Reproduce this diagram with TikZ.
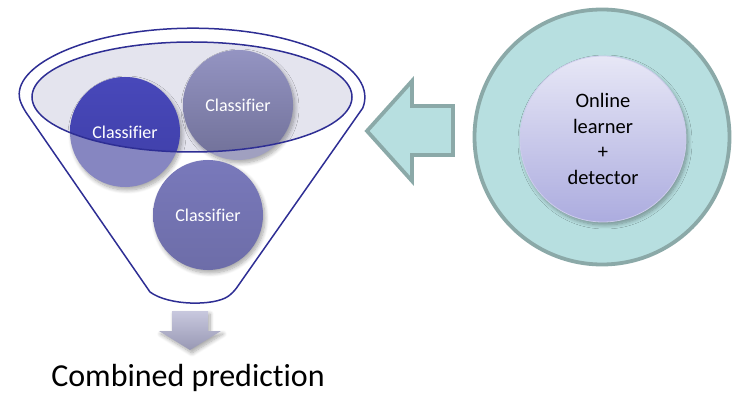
\documentclass[tikz,border=0pt]{standalone}
\usepackage{fontspec}
\setmainfont{Carlito}[Ligatures=NoCommon]
\usetikzlibrary{shadows.blur}

\definecolor{funnelblue}{HTML}{2E2E94}
\definecolor{ellipsefill}{HTML}{E4E4EE}
\definecolor{tealfill}{HTML}{B7DFE0}
\definecolor{tealedge}{HTML}{8BA9A8}

\begin{document}
\begin{tikzpicture}[x=1pt,y=1pt,
  softshadow/.style={blur shadow={shadow xshift=2pt, shadow yshift=-3pt,
      shadow blur radius=4pt, shadow blur steps=8, shadow opacity=35}},
  disc/.style={circle, minimum size=110pt, inner sep=0pt, softshadow},
  disclabel/.style={text=white, font=\fontsize{18}{22}\selectfont, inner sep=0pt},
  funnelline/.style={draw=funnelblue, line width=1.5pt},
  tealshape/.style={fill=tealfill, draw=tealedge, line width=3.8pt, line join=miter}
]
\useasboundingbox (0,0) rectangle (738,394);

% bowl of the funnel
\fill[ellipsefill] (192,297) ellipse [x radius=160, y radius=55];

% the three classifiers
\node[disc, fill={rgb,255:red,134;green,134;blue,193}] (c1) at (125,262) {};
\node[disc, top color={rgb,255:red,165;green,165;blue,198},
      bottom color={rgb,255:red,160;green,160;blue,192}] (c2) at (238,289) {};
\node[disc, top color={rgb,255:red,121;green,121;blue,187},
      bottom color={rgb,255:red,109;green,109;blue,168}] (c3) at (208,179) {};

% parts of the classifiers lying inside the bowl
\begin{scope}
  \clip (192,297) ellipse [x radius=160, y radius=55];
  \shade[top color={rgb,255:red,72;green,72;blue,186},
         bottom color={rgb,255:red,62;green,62;blue,166}]
    (c1.center) circle [radius=55];
  \shade[top color={rgb,255:red,148;green,148;blue,194},
         bottom color={rgb,255:red,112;green,112;blue,152}]
    (c2.center) circle [radius=55];
\end{scope}

% rim of the bowl and outline of the funnel
\draw[funnelline] (192,297) ellipse [x radius=160, y radius=55];
\draw[funnelline, rounded corners=6pt]
  (150,102) -- (23,286)
  [sharp corners] arc [start angle=189, end angle=-9, x radius=172, y radius=69]
  [rounded corners=6pt] -- (233,101)
  [sharp corners] .. controls (214,88) and (169,88) .. (150,102) -- cycle;

\node[disclabel] (l1) at (c1) {Classifier};
\node[disclabel] (l2) at (c2) {Classifier};
\node[disclabel] (l3) at (c3) {Classifier};

% arrow leading out of the funnel
\shade[top color={rgb,255:red,200;green,200;blue,222},
       bottom color={rgb,255:red,152;green,152;blue,180}, softshadow]
  (172,83) -- (208,83) -- (208,63) -- (221,63) -- (190,44) -- (159,63) -- (172,63) -- cycle;
\node[anchor=base, font=\fontsize{32}{38}\selectfont, inner sep=0pt] (out) at (188,8)
  {Combined prediction};

% online learner and detector
\node[circle, tealshape, minimum size=255pt, inner sep=0pt] (ring) at (602,257) {};
\node[circle, minimum size=166pt, inner sep=0pt, align=center,
      top color={rgb,255:red,231;green,231;blue,246},
      bottom color={rgb,255:red,172;green,172;blue,223},
      draw={rgb,255:red,205;green,205;blue,236}, line width=0.8pt, softshadow,
      font=\fontsize{20.5}{25.7}\selectfont] (learner) at (603,255)
  {Online\\learner\\+\\detector};

% arrow from the learner into the funnel
\draw[tealshape] (367,263) -- (412,313) -- (412,288) -- (453,288)
  -- (453,239) -- (412,239) -- (412,213) -- cycle;
\end{tikzpicture}
\end{document}
